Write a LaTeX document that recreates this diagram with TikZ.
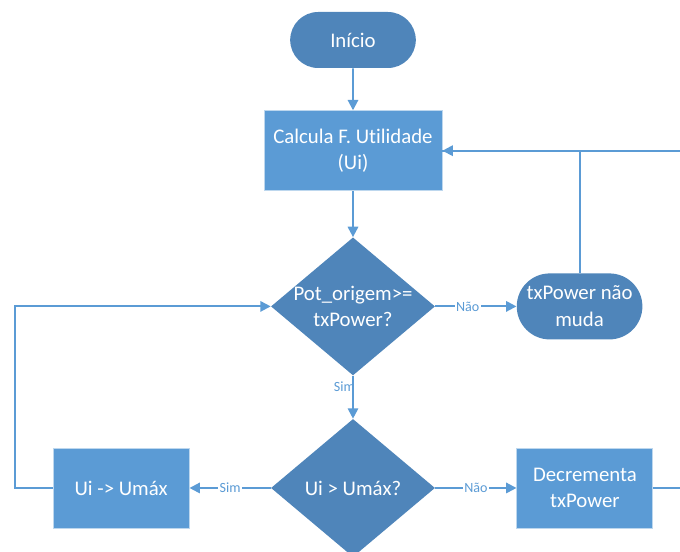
\documentclass[tikz,border=0pt]{standalone}
\usepackage{fontspec}
\setmainfont{Carlito}[Ligatures=NoCommon]
\usetikzlibrary{
	positioning,						% Relative placement
	shapes.geometric,					% Diamonds
	shapes.misc,						% Rounded rectangles
	arrows.meta,						% Arrow tips
	calc
}
\definecolor{boxblue}{RGB}{91,155,213}
\definecolor{termblue}{RGB}{79,133,186}
\definecolor{lineblue}{RGB}{91,155,213}

\begin{document}
\begin{tikzpicture}
		[
		,node distance = 1.075cm and 2.03cm
		,font=\fontsize{14.8}{19}\selectfont
		,terminal/.style = {
			,rounded rectangle
			,fill=termblue
			,text=white
			,minimum height=1.4cm
			,minimum width=3.375cm
			,align=center}
		,process/.style = {
			,rectangle
			,fill=boxblue
			,draw=boxblue!40!white
			,line width=0.6pt
			,text=white
			,minimum height=2cm
			,minimum width=3.4cm
			,align=center}
		,decision/.style = {
			,diamond
			,aspect=1.17
			,fill=termblue
			,text=white
			,inner sep=-3pt
			,minimum width=4.1cm
			,minimum height=3.45cm
			,align=center}
		,flow/.style = {
			,draw=lineblue
			,line width=1.4pt}
		,choice/.style = {
			,font=\fontsize{10}{11}\selectfont
			,text=lineblue
			,fill=white
			,inner sep=1pt}
		,arrow_head/.tip = {
			Triangle[length=2.6mm, width=2.6mm]}
		]

		% Frame of the picture
		\useasboundingbox (-8.825,1.0) rectangle (8.175,-12.8);
		\clip (-8.825,1.0) rectangle (8.175,-12.8);

		% Main column
		\node [terminal]                                   (inicio) {Início};
		\node [process, minimum width=4.45cm, below=1.05cm of inicio] (calc) {Calcula F. Utilidade\\(Ui)};
		\node [decision, below=1.15cm of calc]             (pot)    {Pot\_origem>=\\txPower?};
		\node [decision, below=of pot]                     (umax)   {Ui > Umáx?};

		% Side nodes
		\node [terminal, minimum height=1.65cm, right=of pot] (nomuda) {txPower não\\muda};
		\node [process, left=of umax]                      (ui)     {Ui -> Umáx};
		\node [process, right=of umax]                     (decr)   {Decrementa\\txPower};
		\coordinate [right=1.5cm of decr.east]             (offpage);

		% Connectors
		\draw [flow, -arrow_head] (inicio) -- (calc);
		\draw [flow, -arrow_head] (calc) -- (pot);
		\draw [flow, -arrow_head] (pot) -- node [choice, pos=0.4] {Não} (nomuda);
		\draw [flow, -arrow_head] (pot) -- node [choice, pos=0.25, left=-3pt, fill=none] {Sim} (umax);
		\draw [flow, -arrow_head] (umax) -- node [choice] {Não} (decr);
		\draw [flow, -arrow_head] (umax) -- node [choice] {Sim} (ui);

		% Loops back
		\draw [flow, -arrow_head] (ui.west) -- ++(-0.95cm,0) |- (pot.west);
		\draw [flow, -arrow_head] (nomuda.north) |- (calc.east);
		\draw [flow] (decr.east) -- (offpage) |- (calc.east);
	\end{tikzpicture}
\end{document}
